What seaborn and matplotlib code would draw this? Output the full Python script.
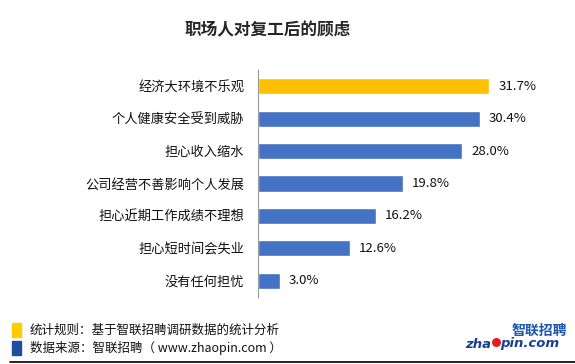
import pandas as pd
import seaborn as sns
import matplotlib.pyplot as plt
from matplotlib.patches import Rectangle

# 数据
categories = ["经济大环境不乐观", "个人健康安全受到威胁", "担心收入缩水", "公司经营不善影响个人发展",
              "担心近期工作成绩不理想", "担心短时间会失业", "没有任何担忧"]
values = [31.7, 30.4, 28.0, 19.8, 16.2, 12.6, 3.0]
bar_colors = ["#FFC000", "#4472C4", "#4472C4", "#4472C4", "#4472C4", "#4472C4", "#4472C4"]
value_labels = ["31.7%", "30.4%", "28.0%", "19.8%", "16.2%", "12.6%", "3.0%"]

title = "职场人对复工后的顾虑"
note_lines = ["统计规则：基于智联招聘调研数据的统计分析", "数据来源：智联招聘（ www.zhaopin.com ）"]
note_colors = ["#FFCC00", "#1F4E9E"]

df = pd.DataFrame({"类别": categories, "比例": values})

sns.set_style("white")
plt.rcParams['font.family'] = ['Noto Sans CJK SC', 'DejaVu Sans']

fig = plt.figure(figsize=(5.75, 3.64), dpi=100)
ax = fig.add_axes([0.4487, 0.184, 0.5078, 0.6237])

sns.barplot(data=df, x="比例", y="类别", hue="类别", palette=bar_colors,
            orient="h", width=0.5, legend=False, ax=ax, saturation=1)

for i, (v, lab) in enumerate(zip(values, value_labels)):
    ax.text(v + 1.2, i, lab, va="center", ha="left", fontsize=9.5, color="#111111")

ax.set_xlim(0, 40)
ax.set_ylim(6.5, -0.5)
ax.set_xlabel("")
ax.set_ylabel("")
ax.set_xticks([])
ax.tick_params(axis="y", which="major", length=0, pad=10, labelsize=9.5, labelcolor="#111111")
ax.set_yticks([i - 0.5 for i in range(len(categories) + 1)], minor=True)
ax.tick_params(axis="y", which="minor", length=4, color="#999999", direction="out")
for s in ["top", "right", "bottom"]:
    ax.spines[s].set_visible(False)
ax.spines["left"].set_color("#999999")
ax.spines["left"].set_linewidth(0.8)

fig.text(0.465, 0.916, title, ha="center", va="center", fontsize=12, fontweight="bold")

# 底部说明
for k, (line, c) in enumerate(zip(note_lines, note_colors)):
    yc = 1 - (330 + 18 * k) / 364
    fig.patches.append(Rectangle((12 / 575, yc - 7 / 364), 9 / 575, 14 / 364,
                                 transform=fig.transFigure, color=c, figure=fig))
    fig.text(30 / 575, yc, line, ha="left", va="center", fontsize=9, color="#111111")

fig.add_artist(plt.Line2D([10 / 575, 1], [1 - 362 / 364] * 2, transform=fig.transFigure,
                          color="black", linewidth=1.2))

# 标志
fig.text(567 / 575, 1 - 331 / 364, "智联招聘", ha="right", va="center", fontsize=10,
         fontweight="bold", style="italic", color="#1A56B0")
fig.text(491 / 575, 1 - 344 / 364, "zha", ha="right", va="center", fontsize=9.5,
         fontweight="bold", style="italic", color="#1A3F8F", family="DejaVu Sans")
fig.text(500 / 575, 1 - 344 / 364, "pin.com", ha="left", va="center", fontsize=9.5,
         fontweight="bold", style="italic", color="#1A3F8F", family="DejaVu Sans")
fig.add_artist(plt.Line2D([496 / 575], [1 - 342 / 364], transform=fig.transFigure,
                          marker="o", markersize=5.5, color="#E0201B", linestyle="none"))

fig.savefig("out.png", dpi=100)
